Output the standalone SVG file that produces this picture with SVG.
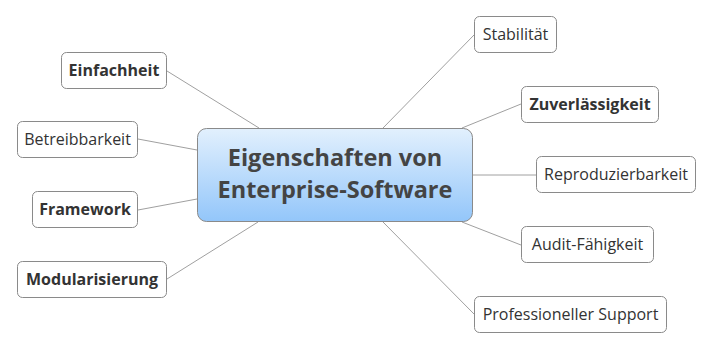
<svg xmlns="http://www.w3.org/2000/svg" width="713" height="350" viewBox="0 0 713 350">
  <defs>
    <linearGradient id="centralFill" x1="0" y1="0" x2="0" y2="1">
      <stop offset="0" stop-color="#e2f0fd"/>
      <stop offset="1" stop-color="#93c6fa"/>
    </linearGradient>
    <style>
      .topic rect { fill: #ffffff; stroke: #8a8a8a; stroke-width: 1; }
      .topic text { font-family: "Open Sans", "Noto Sans", sans-serif; font-size: 16px; fill: #333333; text-anchor: middle; }
      .topic.strong text { font-weight: bold; }
      .links line { stroke: #a0a0a0; stroke-width: 1; }
      #central rect { fill: url(#centralFill); stroke: #8a8a8a; stroke-width: 1; }
      #central text { font-family: "Open Sans", "Noto Sans", sans-serif; font-size: 23.5px; font-weight: bold; fill: #444444; text-anchor: middle; }
    </style>
  </defs>
  <rect width="713" height="350" fill="#ffffff"/>

  <g id="connectors" class="links">
    <line x1="167" y1="71" x2="259" y2="128"/>
    <line x1="138" y1="139" x2="197" y2="150"/>
    <line x1="138" y1="210" x2="197" y2="199"/>
    <line x1="167" y1="279" x2="258" y2="222"/>
    <line x1="474" y1="35" x2="383" y2="128"/>
    <line x1="521" y1="104" x2="462" y2="128"/>
    <line x1="473" y1="175" x2="536" y2="175"/>
    <line x1="462" y1="222" x2="521" y2="245"/>
    <line x1="383" y1="222" x2="474" y2="314"/>
  </g>

  <g id="central">
    <rect x="197.5" y="128.5" width="275" height="93" rx="9"/>
    <text x="335" y="166">Eigenschaften von</text>
    <text x="335" y="198">Enterprise-Software</text>
  </g>

  <g id="einfachheit" class="topic strong">
    <rect x="61.5" y="52.5" width="105" height="36" rx="5"/>
    <text x="114" y="76">Einfachheit</text>
  </g>
  <g id="betreibbarkeit" class="topic">
    <rect x="17.5" y="121.5" width="120" height="36" rx="5"/>
    <text x="77.5" y="145">Betreibbarkeit</text>
  </g>
  <g id="framework" class="topic strong">
    <rect x="32.5" y="191.5" width="105" height="36" rx="5"/>
    <text x="85" y="215">Framework</text>
  </g>
  <g id="modularisierung" class="topic strong">
    <rect x="17.5" y="261.5" width="149" height="36" rx="5"/>
    <text x="92" y="285">Modularisierung</text>
  </g>

  <g id="stabilitaet" class="topic">
    <rect x="474.5" y="16.5" width="82" height="36" rx="5"/>
    <text x="515.5" y="40">Stabilität</text>
  </g>
  <g id="zuverlaessigkeit" class="topic strong">
    <rect x="521.5" y="86.5" width="137" height="36" rx="5"/>
    <text x="590" y="110">Zuverlässigkeit</text>
  </g>
  <g id="reproduzierbarkeit" class="topic">
    <rect x="536.5" y="156.5" width="159" height="36" rx="5"/>
    <text x="616" y="180">Reproduzierbarkeit</text>
  </g>
  <g id="audit" class="topic">
    <rect x="521.5" y="226.5" width="132" height="36" rx="5"/>
    <text x="587.5" y="250">Audit-Fähigkeit</text>
  </g>
  <g id="support" class="topic">
    <rect x="474.5" y="296.5" width="192" height="36" rx="5"/>
    <text x="570.5" y="320">Professioneller Support</text>
  </g>
</svg>
